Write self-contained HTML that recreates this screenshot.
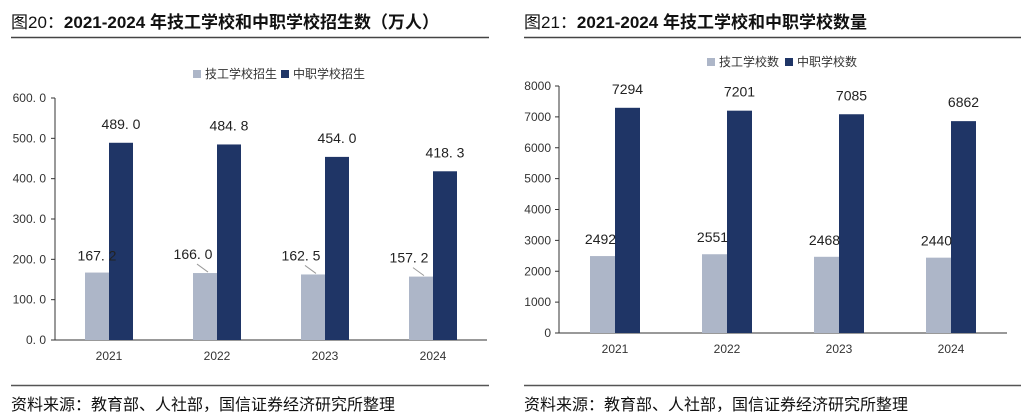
<!DOCTYPE html>
<html><head><meta charset="utf-8"><style>
body{margin:0;width:1021px;height:420px;background:#fff;overflow:hidden;font-family:"Liberation Sans","Noto Sans CJK SC",sans-serif;}
svg{display:block}
</style></head><body>
<svg id="s" width="1021" height="420">
<text x="11" y="28" font-size="17" font-weight="bold" fill="#111"><tspan font-weight="normal">图20：</tspan>2021-2024 年技工学校和中职学校招生数（万人）</text>
<line x1="11" y1="37.5" x2="489" y2="37.5" stroke="#444" stroke-width="1.5"/>
<text x="524" y="28" font-size="17" font-weight="bold" fill="#111"><tspan font-weight="normal">图21：</tspan>2021-2024 年技工学校和中职学校数量</text>
<line x1="524" y1="37.5" x2="1021" y2="37.5" stroke="#444" stroke-width="1.5"/>
<line x1="11" y1="385.5" x2="489" y2="385.5" stroke="#555" stroke-width="1.5"/>
<line x1="524" y1="385.5" x2="1021" y2="385.5" stroke="#555" stroke-width="1.5"/>
<text x="11" y="410" font-size="16" fill="#111">资料来源：教育部、人社部，国信证券经济研究所整理</text>
<text x="524" y="410" font-size="16" fill="#111">资料来源：教育部、人社部，国信证券经济研究所整理</text>
<g id="left"></g>
<g id="right"></g>
</svg>
<script>
const categories=["2021","2022","2023","2024"];
const leftTech=[167.2,166.0,162.5,157.2];
const leftVoc=[489.0,484.8,454.0,418.3];
const leftTicks=[0,100,200,300,400,500,600];
const rightTech=[2492,2551,2468,2440];
const rightVoc=[7294,7201,7085,6862];
const rightTicks=[0,1000,2000,3000,4000,5000,6000,7000,8000];
const NS="http://www.w3.org/2000/svg";
function mk(p,t,a){const e=document.createElementNS(NS,t);for(const k in a)e.setAttribute(k,a[k]);p.appendChild(e);return e;}
function draw(g,o){
  const y=v=>o.y0-(v/o.max)*(o.y0-o.yTop);
  const band=(o.xR-o.x0)/categories.length;
  const cx=i=>o.x0+band*(i+0.5);
  let ax=mk(g,"line",{x1:o.x0,y1:o.yTop,x2:o.x0,y2:o.y0,stroke:"#333","stroke-width":1});
  
  
  let bx=mk(g,"line",{x1:o.x0,y1:o.y0,x2:o.xR,y2:o.y0,stroke:"#333","stroke-width":1});
  
  
  o.ticks.forEach(t=>{
    let tk=mk(g,"line",{x1:o.x0-4,y1:y(t),x2:o.x0,y2:y(t),stroke:"#333"});
    
    
    let tl=mk(g,"text",{x:o.x0-o.tickGap,y:y(t)+4,"font-size":12,"text-anchor":"end",fill:"#333"});
    tl.textContent=o.fmtTick(t);
    
    
  });
  categories.forEach((c,i)=>{
    const w=o.bw;
    let b1=mk(g,"rect",{x:cx(i)-w,y:y(o.a[i]),width:w,height:o.y0-y(o.a[i]),fill:"#adb6c8"});
    
    
    let b2=mk(g,"rect",{x:cx(i),y:y(o.b[i]),width:w,height:o.y0-y(o.b[i]),fill:"#1f3566"});
    
    
    const lx=cx(i)-w/2-(i>0?o.lOff:o.lOff0);
    const ly=y(o.a[i])-(i>0?o.lDy:o.lDy0);
    if(o.leader&&i>0){
      let ld=mk(g,"line",{x1:lx+4,y1:ly+5,x2:cx(i)-w/2+3,y2:y(o.a[i])-1,stroke:"#999","stroke-width":1});
      
      
    }
    let l1=mk(g,"text",{x:lx,y:ly,"font-size":14,"text-anchor":"middle",fill:"#222"});
    l1.textContent=o.fmt(o.a[i]);
    
    
    let l2=mk(g,"text",{x:cx(i)+w/2,y:y(o.b[i])-14,"font-size":14,"text-anchor":"middle",fill:"#222"});
    l2.textContent=o.fmt(o.b[i]);
    
    
    let xl=mk(g,"text",{x:cx(i),y:o.y0+20,"font-size":12,"text-anchor":"middle",fill:"#333"});
    xl.textContent=c;
    
    
  });
  let lg=mk(g,"g",{});
  
  
  mk(lg,"rect",{x:o.legX,y:o.legY-8,width:8,height:8,fill:"#adb6c8"});
  let t1=mk(lg,"text",{x:o.legX+12,y:o.legY,"font-size":12,fill:"#333"});t1.textContent=o.n1;
  
  
  mk(lg,"rect",{x:o.legX+o.legGap,y:o.legY-8,width:8,height:8,fill:"#1f3566"});
  let t2=mk(lg,"text",{x:o.legX+o.legGap+12,y:o.legY,"font-size":12,fill:"#333"});t2.textContent=o.n2;
  
  
}
draw(document.getElementById("left"),{x0:55,xR:487,y0:340,yTop:98,max:600,ticks:leftTicks,a:leftTech,b:leftVoc,bw:24,
  fmt:v=>v.toFixed(1).replace(".",". "),fmtTick:v=>v.toFixed(1).replace(".",". "),tickGap:9,
  lOff0:0,lDy0:12,lOff:12,lDy:14,leader:true,
  legX:193,legY:78,legGap:88,n1:"技工学校招生",n2:"中职学校招生"});
draw(document.getElementById("right"),{x0:559,xR:1007,y0:333,yTop:86,max:8000,ticks:rightTicks,a:rightTech,b:rightVoc,bw:25,
  fmt:v=>String(v),fmtTick:v=>String(v),tickGap:8,
  lOff0:2,lDy0:12,lOff:2,lDy:12,leader:false,
  legX:707,legY:66,legGap:78,n1:"技工学校数",n2:"中职学校数"});
</script>
</body></html>
